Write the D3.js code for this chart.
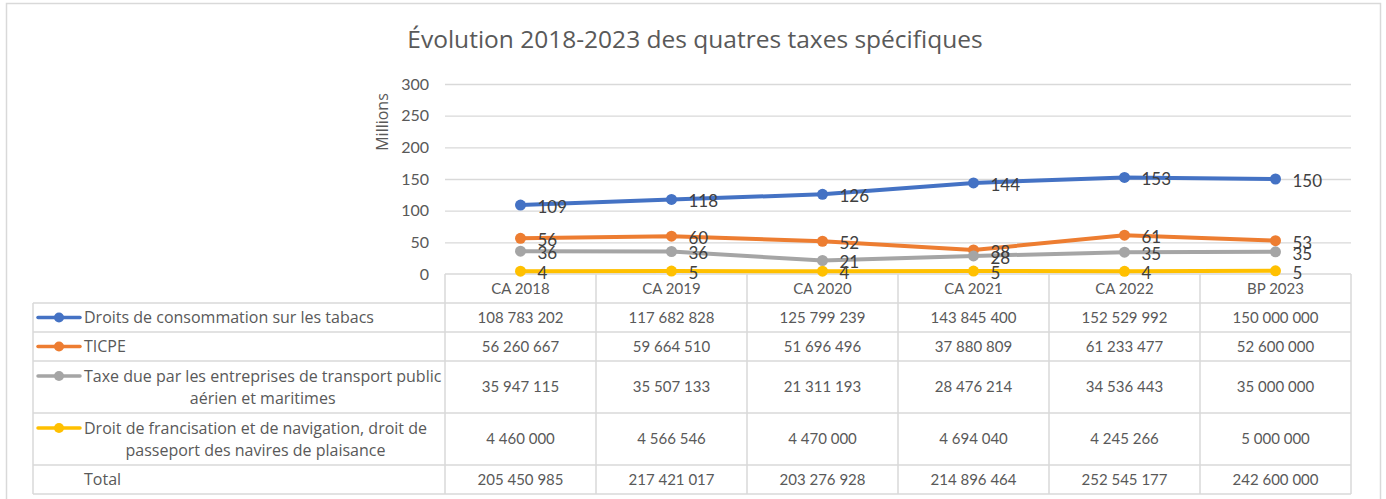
<!DOCTYPE html>
<html>
<head>
<meta charset="utf-8">
<script src="https://cdn.jsdelivr.net/npm/d3@7"></script>
<style>
  body { margin: 0; background: #fff; }
  svg text { font-family: Lato, "Open Sans", sans-serif; fill: #595959; }
  svg text.words { font-family: "Open Sans", Lato, sans-serif; }
</style>
</head>
<body>
<svg id="chart" width="1386" height="499"></svg>
<script>
const categories = ["CA 2018", "CA 2019", "CA 2020", "CA 2021", "CA 2022", "BP 2023"];
const seriesNames = [
    ["Droits de consommation sur les tabacs"],
    ["TICPE"],
    ["Taxe due par les entreprises de transport public", "aérien et maritimes"],
    ["Droit de francisation et de navigation, droit de", "passeport des navires de plaisance"]
];
const seriesColors = ["#4472C4", "#ED7D31", "#A5A5A5", "#FFC000"];
const tabacs = [108783202, 117682828, 125799239, 143845400, 152529992, 150000000];
const ticpe = [56260667, 59664510, 51696496, 37880809, 61233477, 52600000];
const transport = [35947115, 35507133, 21311193, 28476214, 34536443, 35000000];
const francisation = [4460000, 4566546, 4470000, 4694040, 4245266, 5000000];
const totals = [205450985, 217421017, 203276928, 214896464, 252545177, 242600000];
const yTicks = [0, 50, 100, 150, 200, 250, 300];

const series = [tabacs, ticpe, transport, francisation];

const svg = d3.select("#chart");
const plot = {left: 445, right: 1351, top: 84, bottom: 274};
const tableLeft = 33;
// row boundaries under the axis (header row first)
const rowLines = [274, 303, 332, 361, 413, 465, 494];
const gridColor = "#d9d9d9";

const fr = d3.formatLocale({decimal: ",", thousands: "\u00a0", grouping: [3], currency: ["", ""]});
const fmt = fr.format(",d");

const x = d3.scaleBand().domain(categories).range([plot.left, plot.right]);
const y = d3.scaleLinear().domain([0, 300]).range([plot.bottom, plot.top]);

// outer frame
svg.append("rect")
    .attr("x", 6.5).attr("y", 3.5)
    .attr("width", 1374).attr("height", 520)
    .attr("fill", "none").attr("stroke", gridColor).attr("stroke-width", 1.5);

svg.append("text")
    .attr("class", "words")
    .attr("x", 695).attr("y", 48)
    .attr("text-anchor", "middle")
    .style("font-size", "24.5px")
    .text("Évolution 2018-2023 des quatres taxes spécifiques");

// gridlines
svg.append("g")
    .attr("transform", `translate(${plot.left},0)`)
    .call(d3.axisLeft(y).tickValues(yTicks.slice(1)).tickSize(-(plot.right - plot.left)).tickFormat(""))
    .call(g => g.select(".domain").remove())
    .call(g => g.selectAll("line").attr("stroke", gridColor).attr("stroke-width", 1.3));

// y labels
svg.append("g")
    .attr("transform", `translate(${plot.left},0)`)
    .call(d3.axisLeft(y).tickValues(yTicks).tickSize(0).tickPadding(16))
    .call(g => g.select(".domain").remove())
    .call(g => g.selectAll("text").style("font-size", "16px").attr("fill", "#595959").style("font-family", "Lato, sans-serif"));

svg.append("text")
    .attr("class", "words")
    .attr("transform", "translate(388,122) rotate(-90)")
    .attr("text-anchor", "middle")
    .style("font-size", "16px")
    .text("Millions");

// data table grid
const tg = svg.append("g").attr("stroke", gridColor).attr("stroke-width", 1.5);
rowLines.forEach((ry, i) => {
    tg.append("line")
        .attr("x1", i == 0 ? plot.left : tableLeft).attr("x2", plot.right)
        .attr("y1", ry).attr("y2", ry);
});
tg.append("line").attr("x1", tableLeft).attr("x2", tableLeft).attr("y1", rowLines[1]).attr("y2", rowLines[6]);
categories.forEach(c => {
    tg.append("line").attr("x1", x(c)).attr("x2", x(c)).attr("y1", rowLines[0]).attr("y2", rowLines[6]);
});
tg.append("line").attr("x1", plot.right).attr("x2", plot.right).attr("y1", rowLines[0]).attr("y2", rowLines[6]);

// header labels
svg.selectAll("text.cat")
    .data(categories)
    .enter().append("text")
    .attr("class", "cat")
    .attr("x", d => x(d) + x.bandwidth() / 2)
    .attr("y", (rowLines[0] + rowLines[1]) / 2)
    .attr("dy", "0.35em")
    .attr("text-anchor", "middle")
    .style("font-size", "15px")
    .text(d => d);

// table rows
const rows = series.concat([totals]);
rows.forEach((vals, i) => {
    const top = rowLines[i + 1], bottom = rowLines[i + 2];
    const mid = (top + bottom) / 2;
    const names = i < 4 ? seriesNames[i] : ["Total"];
    const lineH = 22;
    const firstY = mid - (names.length - 1) * lineH / 2;

    const first = svg.append("text")
        .attr("class", "words")
        .attr("x", 84).attr("y", firstY).attr("dy", "0.35em")
        .style("font-size", "16px")
        .text(names[0]);
    const w = first.node().getComputedTextLength();
    names.slice(1).forEach((n, k) => {
        svg.append("text")
            .attr("class", "words")
            .attr("x", 84 + w / 2).attr("y", firstY + (k + 1) * lineH).attr("dy", "0.35em")
            .attr("text-anchor", "middle")
            .style("font-size", "16px")
            .text(n);
    });

    if (i < 4) {
        svg.append("line")
            .attr("x1", 38).attr("x2", 80).attr("y1", firstY).attr("y2", firstY)
            .attr("stroke", seriesColors[i]).attr("stroke-width", 3.5).attr("stroke-linecap", "round");
        svg.append("circle")
            .attr("cx", 59).attr("cy", firstY).attr("r", 5)
            .attr("fill", seriesColors[i]);
    }

    svg.selectAll(null)
        .data(vals)
        .enter().append("text")
        .attr("x", (d, j) => x(categories[j]) + x.bandwidth() / 2)
        .attr("y", mid).attr("dy", "0.35em")
        .attr("text-anchor", "middle")
        .style("font-size", "15px")
        .text(d => fmt(d));
});

// lines
const line = d3.line()
    .x((d, j) => x(categories[j]) + x.bandwidth() / 2)
    .y(d => y(d / 1e6));

series.forEach((vals, i) => {
    svg.append("path")
        .datum(vals)
        .attr("d", line)
        .attr("fill", "none")
        .attr("stroke", seriesColors[i])
        .attr("stroke-width", 4)
        .attr("stroke-linejoin", "round");

    svg.selectAll(null)
        .data(vals)
        .enter().append("circle")
        .attr("cx", (d, j) => x(categories[j]) + x.bandwidth() / 2)
        .attr("cy", d => y(d / 1e6))
        .attr("r", 5.5)
        .attr("fill", seriesColors[i]);
});

series.forEach((vals, i) => {
    svg.selectAll(null)
        .data(vals)
        .enter().append("text")
        .attr("x", (d, j) => x(categories[j]) + x.bandwidth() / 2 + 17)
        .attr("y", d => y(d / 1e6) + 2)
        .attr("dy", "0.35em")
        .style("font-size", "17px")
        .style("fill", "#404040")
        .text(d => Math.round(d / 1e6));
});
</script>
</body>
</html>
